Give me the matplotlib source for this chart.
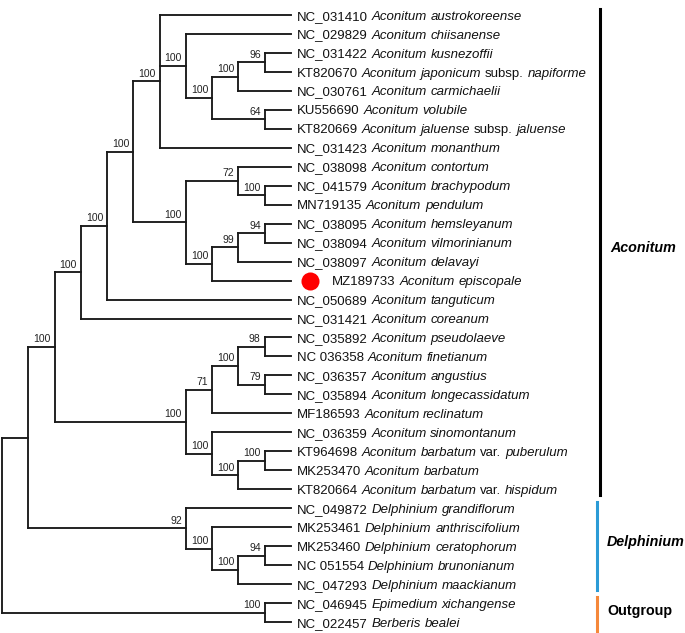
import matplotlib
matplotlib.use("Agg")
import matplotlib.pyplot as plt

# tree in newick form, leaves are indices into the lists below, labels are bootstrap values
newick = ("(((((((0,(1,(((2,3)96,4)100,(5,6)64)100)100,7)100,"
          "((8,(9,10)100)72,(((11,12)94,13)99,14)100)100)100,15)100,16)100,"
          "((((17,18)98,(19,20)79)100,21)71,(22,((23,24)100,25)100)100)100)100,"
          "(26,(27,((28,29)94,30)100)100)92),(31,32)100);")

accessions = ["NC_031410", "NC_029829", "NC_031422", "KT820670", "NC_030761",
              "KU556690", "KT820669", "NC_031423", "NC_038098", "NC_041579",
              "MN719135", "NC_038095", "NC_038094", "NC_038097", "MZ189733",
              "NC_050689", "NC_031421", "NC_035892", "NC 036358", "NC_036357",
              "NC_035894", "MF186593", "NC_036359", "KT964698", "MK253470",
              "KT820664", "NC_049872", "MK253461", "MK253460", "NC 051554",
              "NC_047293", "NC_046945", "NC_022457"]
species = ["Aconitum austrokoreense", "Aconitum chiisanense", "Aconitum kusnezoffii",
           "Aconitum japonicum subsp. napiforme", "Aconitum carmichaelii",
           "Aconitum volubile", "Aconitum jaluense subsp. jaluense",
           "Aconitum monanthum", "Aconitum contortum", "Aconitum brachypodum",
           "Aconitum pendulum", "Aconitum hemsleyanum", "Aconitum vilmorinianum",
           "Aconitum delavayi", "Aconitum episcopale", "Aconitum tanguticum",
           "Aconitum coreanum", "Aconitum pseudolaeve", "Aconitum finetianum",
           "Aconitum angustius", "Aconitum longecassidatum", "Aconitum reclinatum",
           "Aconitum sinomontanum", "Aconitum barbatum var. puberulum",
           "Aconitum barbatum", "Aconitum barbatum var. hispidum",
           "Delphinium grandiflorum", "Delphinium anthriscifolium",
           "Delphinium ceratophorum", "Delphinium brunonianum",
           "Delphinium maackianum", "Epimedium xichangense", "Berberis bealei"]
highlight = 14  # MZ189733, the new sequence

groups = ["Aconitum", "Delphinium", "Outgroup"]
group_first = [0, 26, 31]
group_last = [25, 30, 32]
group_colors = ["black", "#2b9bd6", "#f5883a"]
group_italic = [True, True, False]

plt.rcParams["font.family"] = ["Liberation Sans", "DejaVu Sans"]
FS = 9.5
LINE = "#1a1a1a"


def parse(s):
    pos = 0

    def node():
        nonlocal pos
        if s[pos] == "(":
            pos += 1
            kids = [node()]
            while s[pos] == ",":
                pos += 1
                kids.append(node())
            pos += 1
            lab = ""
            while s[pos] not in ",);":
                lab += s[pos]
                pos += 1
            return {"kids": kids, "support": lab}
        name = ""
        while s[pos] not in ",);":
            name += s[pos]
            pos += 1
        return {"leaf": int(name)}
    return node()


root = parse(newick)

fig = plt.figure(figsize=(6.85, 6.33), dpi=100)
ax = fig.add_axes([0, 0, 1, 1])
ax.set_xlim(0, 685)
ax.set_ylim(633, 0)
ax.axis("off")

tip_x, root_x = 291, 2
top_y, gap = 15, 18.97
leaf_y = [top_y + i * gap for i in range(len(accessions))]


def height(n):
    if "leaf" in n:
        return 0
    return 1 + max(height(k) for k in n["kids"])


step = (tip_x - root_x) / height(root)


def layout(n):
    n["x"] = tip_x - height(n) * step
    if "leaf" in n:
        n["y"] = leaf_y[n["leaf"]]
    else:
        for k in n["kids"]:
            layout(k)
        n["y"] = (n["kids"][0]["y"] + n["kids"][-1]["y"]) / 2


layout(root)


def draw(n):
    if "leaf" in n:
        return
    ax.plot([n["x"], n["x"]], [n["kids"][0]["y"], n["kids"][-1]["y"]],
            color=LINE, lw=1.35, solid_capstyle="projecting")
    for k in n["kids"]:
        ax.plot([n["x"], k["x"]], [k["y"], k["y"]], color=LINE, lw=1.35,
                solid_capstyle="projecting")
        if k.get("support"):
            ax.text(k["x"] - 4, k["y"] - 2.5, k["support"], fontsize=7.5,
                    ha="right", va="bottom", color="#222222")
        draw(k)


draw(root)

# leaf labels: accession upright, names italic except subsp./var.
fig.canvas.draw()
renderer = fig.canvas.get_renderer()
space = FS * 100 / 72 * 0.278
for i, (acc, sp) in enumerate(zip(accessions, species)):
    y = leaf_y[i] + 4.6
    x = tip_x + 6
    if i == highlight:
        ax.plot(x + 13, leaf_y[i], "o", color="#ff0000", ms=13, mec="none")
        x += 35
    words = [(acc, "normal")] + [(w, "normal" if w in ("subsp.", "var.") else "italic")
                                 for w in sp.split()]
    for w, style in words:
        t = ax.text(x, y, w, fontsize=FS, style=style, ha="left", va="baseline",
                    color="#111111")
        x += t.get_window_extent(renderer).width + space

for g, a, b, c, it in zip(groups, group_first, group_last, group_colors, group_italic):
    y0 = leaf_y[a] - 6
    y1 = leaf_y[b] + 6 if b < len(accessions) - 1 else 633
    bx = 600 if c == "black" else 597
    ax.plot([bx, bx], [y0, y1], color=c, lw=2.2)
    ax.text(bx + 10, (y0 + y1) / 2 - 4, g, fontsize=10.3, fontweight="bold",
            style="italic" if it else "normal", ha="left", va="center", color="black")

fig.savefig("out.png", dpi=100)
